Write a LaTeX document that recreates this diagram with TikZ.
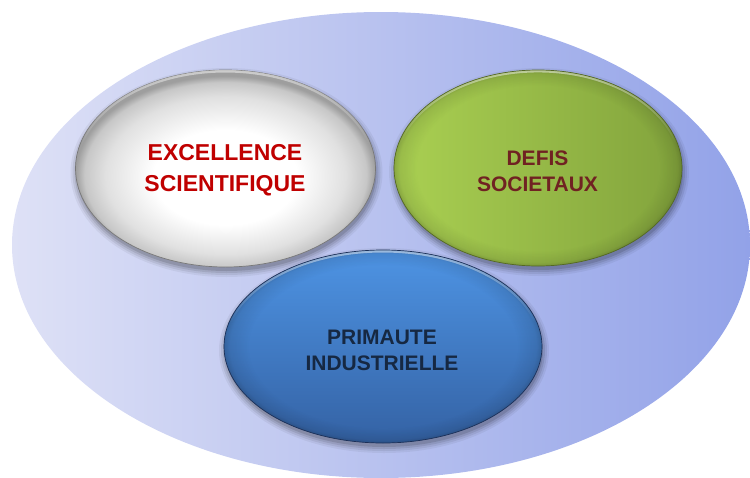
\documentclass[tikz,border=0pt]{standalone}
\usepackage{fontspec}
\setmainfont{Liberation Sans}
\usetikzlibrary{shapes.geometric,fadings}

\definecolor{bgL}{RGB}{222,225,246}
\definecolor{bgR}{RGB}{146,162,232}
\definecolor{grnL}{RGB}{170,208,82}
\definecolor{grnR}{RGB}{130,163,60}
\definecolor{grnLine}{RGB}{84,104,36}
\definecolor{bluT}{RGB}{78,148,228}
\definecolor{bluB}{RGB}{52,98,164}
\definecolor{bluLine}{RGB}{28,48,88}
\definecolor{greyLine}{RGB}{120,120,120}
\definecolor{exred}{RGB}{192,0,0}
\definecolor{defred}{RGB}{112,34,34}
\definecolor{prinavy}{RGB}{22,40,66}

\pgfdeclareradialshading{whiteball}{\pgfpoint{0bp}{-3bp}}{color(0bp)=(white); color(12bp)=(white); color(20bp)=(black!12); color(23.5bp)=(black!22); color(25bp)=(black!38); color(50bp)=(black!38)}
\pgfdeclareradialshading{rimsh}{\pgfpointorigin}{color(0bp)=(black); color(21bp)=(black); color(24bp)=(black!85); color(25bp)=(black!65); color(50bp)=(black!65)}
\pgfdeclarefading{rim}{\pgfuseshading{rimsh}}
\pgfdeclareverticalshading{topsh}{100bp}{color(0bp)=(black); color(56bp)=(black); color(75bp)=(white); color(100bp)=(white)}
\pgfdeclarefading{topfade}{\pgfuseshading{topsh}}

\newcommand{\ballshadow}[3]{%
  \foreach \s/\o in {6/0.05,4/0.07,2/0.09,0/0.12}{%
    \fill[black,opacity=\o] ([shift={(1,4)}]#1) ellipse [x radius=#2pt+\s pt, y radius=#3pt+\s pt];}}
\newcommand{\tophighlight}[3]{%
  \begin{scope}
    \clip (#1) ellipse [x radius=#2pt, y radius=#3pt];
    \draw[white, line width=5pt, opacity=0.5, path fading=topfade] (#1) ellipse [x radius=#2pt, y radius=#3pt];
  \end{scope}}

\begin{document}
\begin{tikzpicture}[x=1pt,y=-1pt,
  ball/.style={ellipse, inner sep=0pt, outer sep=0pt},
  lbl/.style={align=center, font=\bfseries\fontsize{21}{26}\selectfont},
]
\useasboundingbox (0,0) rectangle (750,477);
\begin{scope}
\clip (0,0) rectangle (750,477);
\node[ball, minimum width=738pt, minimum height=466pt, left color=bgL, right color=bgR] (bg) at (381,245) {};
\end{scope}

\coordinate (cexc) at (225.5,168.5);
\coordinate (cdef) at (538,168);
\coordinate (cpri) at (383,346.5);

% shadows
\ballshadow{cexc}{150}{98.5}
\ballshadow{cdef}{144}{98}
\ballshadow{cpri}{159}{96.5}

% white ball
\node[ball, minimum width=300pt, minimum height=197pt, shading=whiteball, draw=greyLine, line width=0.7pt] (exc) at (cexc) {};
\tophighlight{exc.center}{150}{98.5}
% green ball
\node[ball, minimum width=288pt, minimum height=196pt, left color=grnL, right color=grnR] (def) at (cdef) {};
\fill[black, path fading=rim, opacity=0.6] (def.center) ellipse [x radius=144pt, y radius=98pt];
\tophighlight{def.center}{144}{98}
\draw[grnLine, line width=0.7pt] (def.center) ellipse [x radius=144pt, y radius=98pt];
% blue ball
\node[ball, minimum width=318pt, minimum height=193pt, top color=bluT, bottom color=bluB] (pri) at (cpri) {};
\fill[black, path fading=rim, opacity=0.6] (pri.center) ellipse [x radius=159pt, y radius=96.5pt];
\tophighlight{pri.center}{159}{96.5}
\draw[bluLine, line width=0.7pt] (pri.center) ellipse [x radius=159pt, y radius=96.5pt];

% labels
\node[lbl, font=\bfseries\fontsize{23}{31}\selectfont, text=exred] (texc) at (225,170.5) {EXCELLENCE\\SCIENTIFIQUE};
\node[lbl, text=defred] (tdef) at (537.5,171) {DEFIS\\SOCIETAUX};
\node[lbl, text=prinavy] (tpri) at (382,350) {PRIMAUTE\\INDUSTRIELLE};
\end{tikzpicture}
\end{document}
